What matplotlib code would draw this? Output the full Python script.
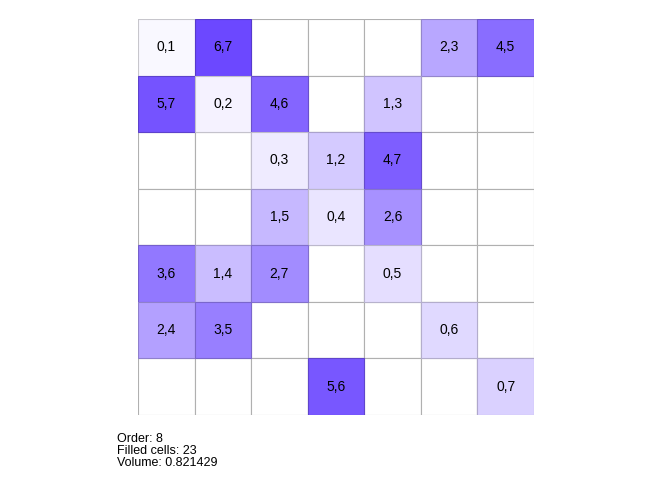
import numpy as np
import matplotlib.pyplot as plt
from matplotlib.patches import Rectangle
from matplotlib.colors import to_rgb

plt.rcParams['font.family'] = ['Liberation Sans', 'DejaVu Sans']

n = 7
# filled cells: row, column, label, shade (0..1)
rows = [0, 0, 0, 0,
        1, 1, 1, 1,
        2, 2, 2,
        3, 3, 3,
        4, 4, 4, 4,
        5, 5, 5,
        6, 6]
cols = [0, 1, 5, 6,
        0, 1, 2, 4,
        2, 3, 4,
        2, 3, 4,
        0, 1, 2, 4,
        0, 1, 5,
        3, 6]
labels = ['0,1', '6,7', '2,3', '4,5',
          '5,7', '0,2', '4,6', '1,3',
          '0,3', '1,2', '4,7',
          '1,5', '0,4', '2,6',
          '3,6', '1,4', '2,7', '0,5',
          '2,4', '3,5', '0,6',
          '5,6', '0,7']
shades = [0.04, 1.00, 0.48, 0.80,
          0.94, 0.07, 0.84, 0.32,
          0.11, 0.29, 0.88,
          0.39, 0.14, 0.60,
          0.74, 0.36, 0.63, 0.18,
          0.52, 0.70, 0.21,
          0.92, 0.25]

info = ['Order: 8', 'Filled cells: 23', 'Volume: 0.821429']

base = np.array(to_rgb('#6c48ff'))
white = np.ones(3)

fig = plt.figure(figsize=(6.72, 4.8), dpi=100)
ax = fig.add_axes([138/672, 65/480, 396/672, 396/480])

# empty grid
for r in range(n):
    for c in range(n):
        ax.add_patch(Rectangle((c, n - 1 - r), 1, 1, facecolor='white',
                               edgecolor='#b0b0b0', lw=0.8))

for r, c, lab, s in zip(rows, cols, labels, shades):
    col = white + (base - white) * s
    edge = col * 0.8
    ax.add_patch(Rectangle((c, n - 1 - r), 1, 1, facecolor=col,
                           edgecolor=edge, lw=0.8, zorder=2))
    ax.text(c + 0.5, n - 0.5 - r, lab, ha='center', va='center',
            fontsize=10, color='black', zorder=3)

ax.set_xlim(0, n)
ax.set_ylim(0, n)
ax.set_aspect('equal')
ax.axis('off')

fig.text(117/672, 1 - 433/480, '\n'.join(info), ha='left', va='top',
         fontsize=9, linespacing=1.0)

fig.savefig('out.png', dpi=100)
